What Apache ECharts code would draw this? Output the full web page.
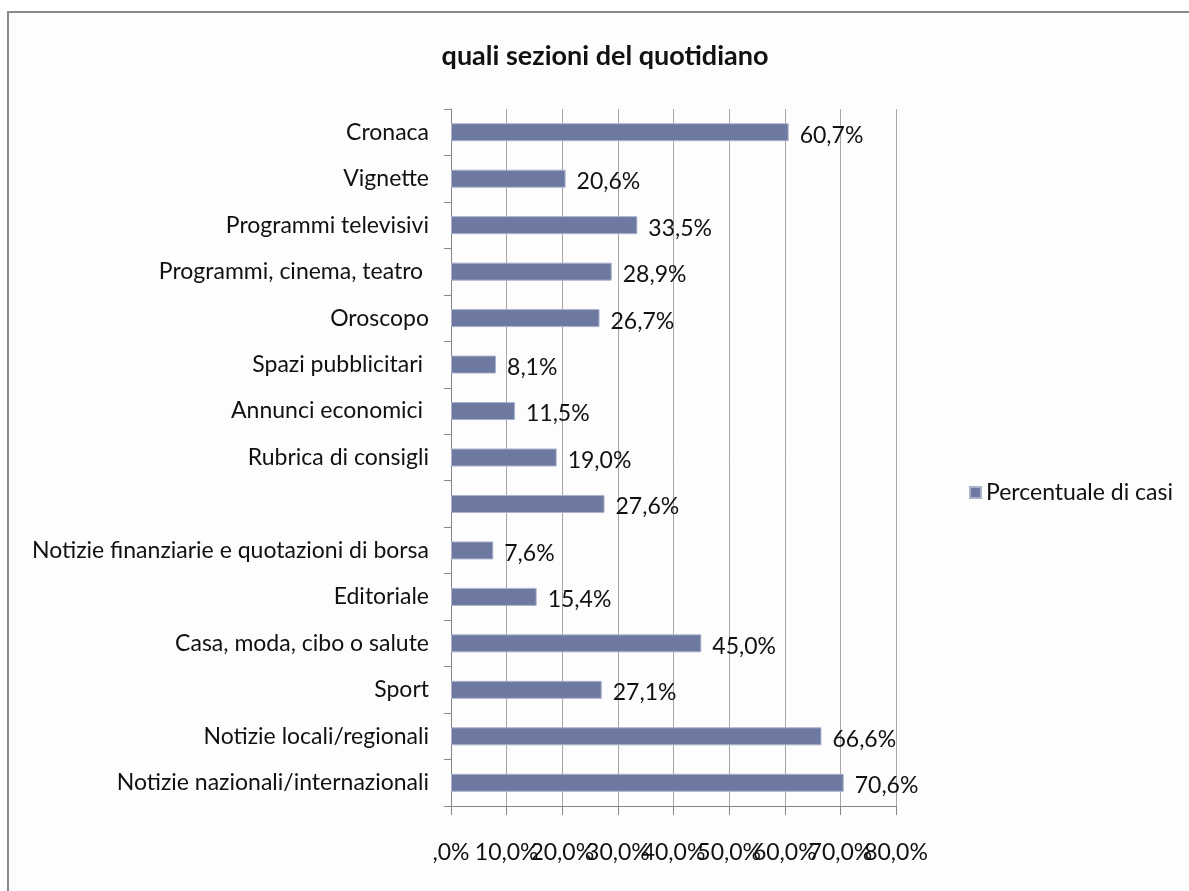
<!DOCTYPE html>
<html>
<head>
<meta charset="utf-8">
<script src="https://cdn.jsdelivr.net/npm/echarts@6/dist/echarts.min.js"></script>
<style>
  html, body { margin: 0; padding: 0; background: #ffffff; }
  #chart { width: 1189px; height: 891px; }
</style>
</head>
<body>
<div id="chart"></div>
<script>
// Sections of the newspaper, listed top to bottom
const categories = [
  'Cronaca',
  'Vignette',
  'Programmi televisivi',
  'Programmi, cinema, teatro ',
  'Oroscopo',
  'Spazi pubblicitari ',
  'Annunci economici ',
  'Rubrica di consigli',
  '',
  'Notizie finanziarie e quotazioni di borsa',
  'Editoriale',
  'Casa, moda, cibo o salute',
  'Sport',
  'Notizie locali/regionali',
  'Notizie nazionali/internazionali'
];
// Percentage of cases for each section
const percentuale = [60.7, 20.6, 33.5, 28.9, 26.7, 8.1, 11.5, 19.0, 27.6, 7.6, 15.4, 45.0, 27.1, 66.6, 70.6];
const seriesName = 'Percentuale di casi';
const titleText = 'quali sezioni del quotidiano';

const fmt = v => (v === 0 ? ',0%' : v.toFixed(1).replace('.', ',') + '%');
const font = 'Lato, "Open Sans", sans-serif';

// The tick labels are wider than one step, so even and odd steps are
// written by two overlaid value axes to keep every label visible.
const tickLabel = parity => ({
  formatter: v => (Math.round(v / 10) % 2 === parity ? fmt(v) : ''),
  margin: 35,
  showMinLabel: true,
  showMaxLabel: true,
  fontFamily: font,
  fontSize: 23,
  color: '#111'
});

const chart = echarts.init(document.getElementById('chart'));
chart.setOption({
  animation: false,
  backgroundColor: '#ffffff',
  graphic: [{
    type: 'rect',
    z: -10,
    shape: { x: 8, y: 12, width: 1200, height: 900 },
    style: { fill: '#fdfdfd', stroke: '#8a8a8a', lineWidth: 2 }
  }],
  title: {
    text: titleText,
    left: 600,
    textAlign: 'center',
    top: 38,
    textStyle: { fontFamily: font, fontWeight: 'bold', fontSize: 27, color: '#111' }
  },
  legend: {
    data: [seriesName],
    left: 964,
    top: 476,
    itemWidth: 11,
    itemHeight: 11,
    itemGap: 6,
    icon: 'rect',
    textStyle: { fontFamily: font, fontSize: 23, color: '#111' }
  },
  grid: { left: 451, right: 293, top: 109, bottom: 85, containLabel: false },
  xAxis: [{
    type: 'value',
    position: 'bottom',
    min: 0,
    max: 80,
    interval: 10,
    axisLine: { show: true, lineStyle: { color: '#868686', width: 1 } },
    axisTick: { show: true, length: 9, lineStyle: { color: '#868686' } },
    splitLine: { show: true, lineStyle: { color: '#a6a6a6', width: 1 } },
    axisLabel: tickLabel(0)
  }, {
    type: 'value',
    position: 'bottom',
    offset: 0,
    min: 0,
    max: 80,
    interval: 10,
    axisLine: { show: false },
    axisTick: { show: false },
    splitLine: { show: false },
    axisLabel: tickLabel(1)
  }],
  yAxis: {
    type: 'category',
    data: categories,
    inverse: true,
    axisLine: { show: true, lineStyle: { color: '#868686', width: 1 } },
    axisTick: { show: true, length: 7, lineStyle: { color: '#868686' } },
    axisLabel: {
      interval: 0,
      margin: 22,
      fontFamily: font,
      fontSize: 23,
      color: '#111'
    }
  },
  series: [{
    name: seriesName,
    type: 'bar',
    xAxisIndex: 0,
    data: percentuale,
    barWidth: 18,
    itemStyle: { color: '#6e79a1', borderColor: '#aab2cc', borderWidth: 1 },
    label: {
      show: true,
      position: 'right',
      distance: 11,
      offset: [0, 3],
      formatter: p => fmt(p.value),
      fontFamily: font,
      fontSize: 23,
      color: '#111'
    }
  }]
});
</script>
</body>
</html>
